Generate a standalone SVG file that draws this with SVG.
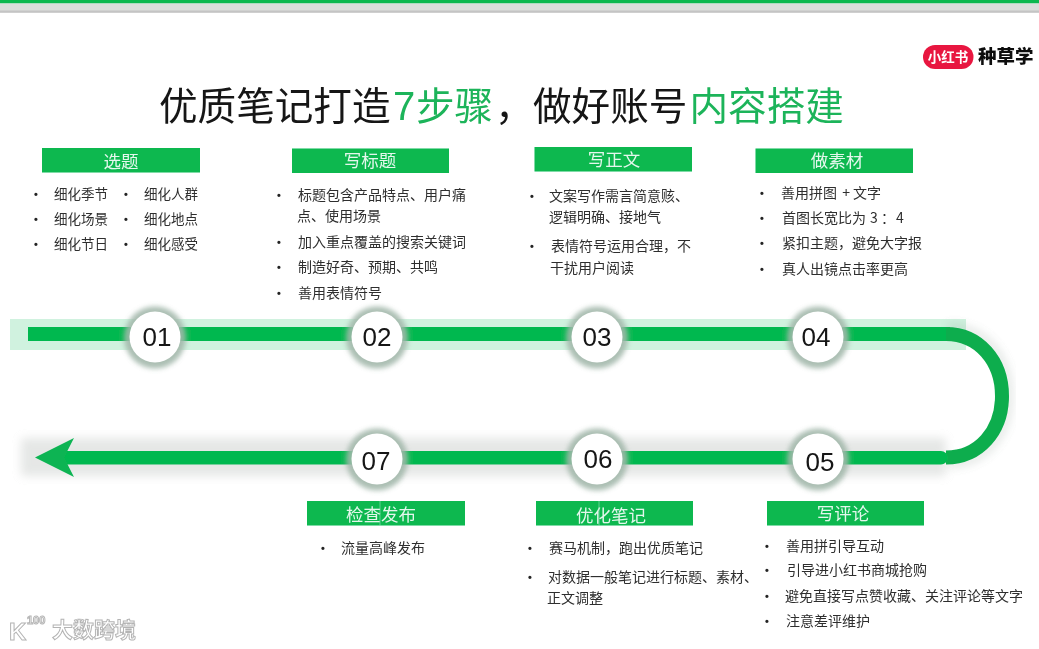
<svg xmlns="http://www.w3.org/2000/svg" width="1039" height="649" viewBox="0 0 1039 649">
<style>
text{font-family:"Noto Sans CJK SC","Liberation Sans",sans-serif}
.t{font-size:14px;fill:#2e2e2e}
.b{font-size:11px;fill:#222;font-family:"Liberation Sans",sans-serif;font-weight:bold;text-anchor:middle}
.h{fill:#0bb850}
.ht{font-size:17.500px;fill:#e4f7ec;text-anchor:middle}
.n{font-family:"Liberation Sans",sans-serif;font-size:26px;fill:#141414;text-anchor:middle}
.halo{fill:#a3b8ab;opacity:.9}
.disc{fill:#fff}
.tt{font-size:38.600px;fill:#141414}
.tg{fill:#1eb45a}
.guide{stroke:#9fe3bb;stroke-width:.6}
</style>
<defs>
<filter id="soft" x="-2%" y="-2%" width="104%" height="104%"><feGaussianBlur stdDeviation="0.4"/></filter>
<filter id="s4" x="-10%" y="-50%" width="120%" height="200%"><feGaussianBlur stdDeviation="5"/></filter>
<filter id="s2" x="-30%" y="-30%" width="160%" height="160%"><feGaussianBlur stdDeviation="2.500"/></filter>
</defs>
<rect width="1039" height="649" fill="#fff"/>
<g filter="url(#soft)">
<g id="topbar">
<rect width="1039" height="3.500" fill="#0bb850"/>
<rect y="3.500" width="1039" height="8" fill="#dcdedc"/>
<rect y="10.500" width="1039" height="2.300" fill="#c4c4c4"/>
</g>
<g id="logo">
<rect x="923" y="45" width="50.500" height="24" rx="12" fill="#e8173f"/>
<text x="948" y="62" font-size="13.500" font-weight="bold" fill="#fff" text-anchor="middle">小红书</text>
<text x="978" y="63" font-size="18.500" font-weight="900" fill="#111">种草学</text>
</g>
<g id="title">
<text x="159" y="120" class="tt">优质笔记打造<tspan class="tg" x="393" font-size="40" style="font-family:'Liberation Sans',sans-serif">7</tspan><tspan class="tg" x="416">步骤</tspan><tspan x="495">，</tspan></text>
<text x="533" y="120" class="tt">做好账号<tspan class="tg" x="689.500">内容搭建</tspan></text>
</g>
<g id="connectors">
<rect x="10" y="319" width="956" height="31" fill="#d0f2df"/>
<path d="M21 438H946V476H21Z" fill="#c3c7c4" opacity=".42" filter="url(#s4)"/>
<path d="M948 327C985 327 1009 356 1009 396C1009 436 985 464 948 464" fill="none" stroke="#8a9a90" stroke-width="6" opacity=".3" filter="url(#s4)"/>
<rect x="28" y="327" width="922" height="14" fill="#06b850"/>
<path d="M946 334C979 334 1002 361 1002 396C1002 431 979 457.500 946 457.500" fill="none" stroke="#10ad4e" stroke-width="14"/>
<path d="M60 451H941a6.500 6.500 0 0 1 0 13.500H60Z" fill="#06b850"/>
<path d="M35 457.500L74 438L64 457.500L74 477Z" fill="#0db453"/>
</g>
<g id="n1"><circle class="halo" cx="155" cy="337.500" r="31" filter="url(#s2)"/><circle class="disc" cx="155" cy="337" r="25.500"/><text class="n" x="157" y="346">01</text></g>
<g id="n2"><circle class="halo" cx="377" cy="337.500" r="31" filter="url(#s2)"/><circle class="disc" cx="377" cy="337" r="25.500"/><text class="n" x="377" y="346">02</text></g>
<g id="n3"><circle class="halo" cx="597" cy="337.500" r="31" filter="url(#s2)"/><circle class="disc" cx="597" cy="337" r="25.500"/><text class="n" x="597" y="346">03</text></g>
<g id="n4"><circle class="halo" cx="818" cy="337.500" r="31" filter="url(#s2)"/><circle class="disc" cx="818" cy="337" r="25.500"/><text class="n" x="816" y="346">04</text></g>
<g id="n5"><circle class="halo" cx="818" cy="459.500" r="31" filter="url(#s2)"/><circle class="disc" cx="818" cy="459" r="25.500"/><text class="n" x="820" y="471">05</text></g>
<g id="n6"><circle class="halo" cx="597" cy="459.500" r="31" filter="url(#s2)"/><circle class="disc" cx="597" cy="459" r="25.500"/><text class="n" x="598" y="468">06</text></g>
<g id="n7"><circle class="halo" cx="377" cy="459.500" r="31" filter="url(#s2)"/><circle class="disc" cx="377" cy="459" r="25.500"/><text class="n" x="376" y="470">07</text></g>
<g id="step1">
<rect class="h" x="42" y="148" width="158" height="24.500"/><text class="ht" x="121" y="168">选题</text>
<text class="b" x="36" y="198">•</text><text class="t" x="54" y="199" style="font-size:13.500px">细化季节</text>
<text class="b" x="36" y="223">•</text><text class="t" x="54" y="224" style="font-size:13.500px">细化场景</text>
<text class="b" x="36" y="248">•</text><text class="t" x="54" y="249" style="font-size:13.500px">细化节日</text>
<text class="b" x="126" y="198">•</text><text class="t" x="144" y="199" style="font-size:13.500px">细化人群</text>
<text class="b" x="126" y="223">•</text><text class="t" x="144" y="224" style="font-size:13.500px">细化地点</text>
<text class="b" x="126" y="248">•</text><text class="t" x="144" y="249" style="font-size:13.500px">细化感受</text>
</g>
<g id="step2">
<rect class="h" x="292" y="148.500" width="157" height="24.500"/><text class="ht" x="370" y="167">写标题</text>
<text class="b" x="279" y="199">•</text><text class="t" x="298" y="200">标题包含产品特点、用户痛</text>
<text class="t" x="297" y="221">点、使用场景</text>
<text class="b" x="279" y="246">•</text><text class="t" x="298" y="247">加入重点覆盖的搜索关键词</text>
<text class="b" x="279" y="271">•</text><text class="t" x="298" y="272">制造好奇、预期、共鸣</text>
<text class="b" x="279" y="297">•</text><text class="t" x="298" y="298">善用表情符号</text>
</g>
<g id="step3">
<rect class="h" x="534.500" y="147" width="157.500" height="24.500"/><text class="ht" x="614" y="166">写正文</text>
<text class="b" x="532" y="200">•</text><text class="t" x="549" y="201">文案写作需言简意赅、</text>
<text class="t" x="549" y="222">逻辑明确、接地气</text>
<text class="b" x="532" y="250">•</text><text class="t" x="551" y="251">表情符号运用合理，不</text>
<text class="t" x="550" y="273">干扰用户阅读</text>
</g>
<g id="step4">
<rect class="h" x="755.500" y="148.500" width="157.500" height="24.500"/><text class="ht" x="837" y="167">做素材</text>
<text class="b" x="762" y="197">•</text><text class="t" x="781" y="198">善用拼图<tspan x="839"> + </tspan><tspan x="853">文字</tspan></text>
<text class="b" x="762" y="222">•</text><text class="t" x="782" y="223">首图长宽比为 <tspan x="870">3</tspan><tspan x="881">：</tspan><tspan x="896">4</tspan></text>
<text class="b" x="762" y="247">•</text><text class="t" x="782" y="248">紧扣主题，避免大字报</text>
<text class="b" x="762" y="273">•</text><text class="t" x="782" y="274">真人出镜点击率更高</text>
</g>
<g id="step5">
<rect class="h" x="767" y="501" width="157" height="24.500"/><text class="ht" x="843" y="520">写评论</text>
<text class="b" x="767" y="550">•</text><text class="t" x="786" y="551">善用拼引导互动</text>
<text class="b" x="767" y="574">•</text><text class="t" x="787" y="575">引导进小红书商城抢购</text>
<text class="b" x="767" y="600">•</text><text class="t" x="785" y="601">避免直接写点赞收藏、关注评论等文字</text>
<text class="b" x="767" y="625">•</text><text class="t" x="786" y="626">注意差评维护</text>
</g>
<g id="step6">
<rect class="h" x="536" y="501" width="157" height="24.500"/><text class="ht" x="611" y="522">优化笔记</text>
<line class="guide" x1="599" y1="501" x2="599" y2="525.500"/>
<text class="b" x="530" y="552">•</text><text class="t" x="549" y="553">赛马机制，跑出优质笔记</text>
<text class="b" x="530" y="581">•</text><text class="t" x="548" y="582">对数据一般笔记进行标题、素材、</text>
<text class="t" x="547" y="603">正文调整</text>
</g>
<g id="step7">
<rect class="h" x="307" y="501" width="158" height="24.500"/><text class="ht" x="381" y="521">检查发布</text>
<line class="guide" x1="380" y1="501" x2="380" y2="525.500"/>
<text class="b" x="323" y="552">•</text><text class="t" x="341" y="553">流量高峰发布</text>
</g>
<g id="watermark" fill="#fff" stroke="#b4b4b4" stroke-width="1">
<text x="9" y="640" font-size="24" font-weight="bold" style="font-family:'Liberation Sans',sans-serif">K</text>
<text x="27" y="624" font-size="11" font-weight="bold" style="font-family:'Liberation Sans',sans-serif">100</text>
<text x="52" y="637" font-size="21" font-weight="bold">大数跨境</text>
</g>
</g>
</svg>
